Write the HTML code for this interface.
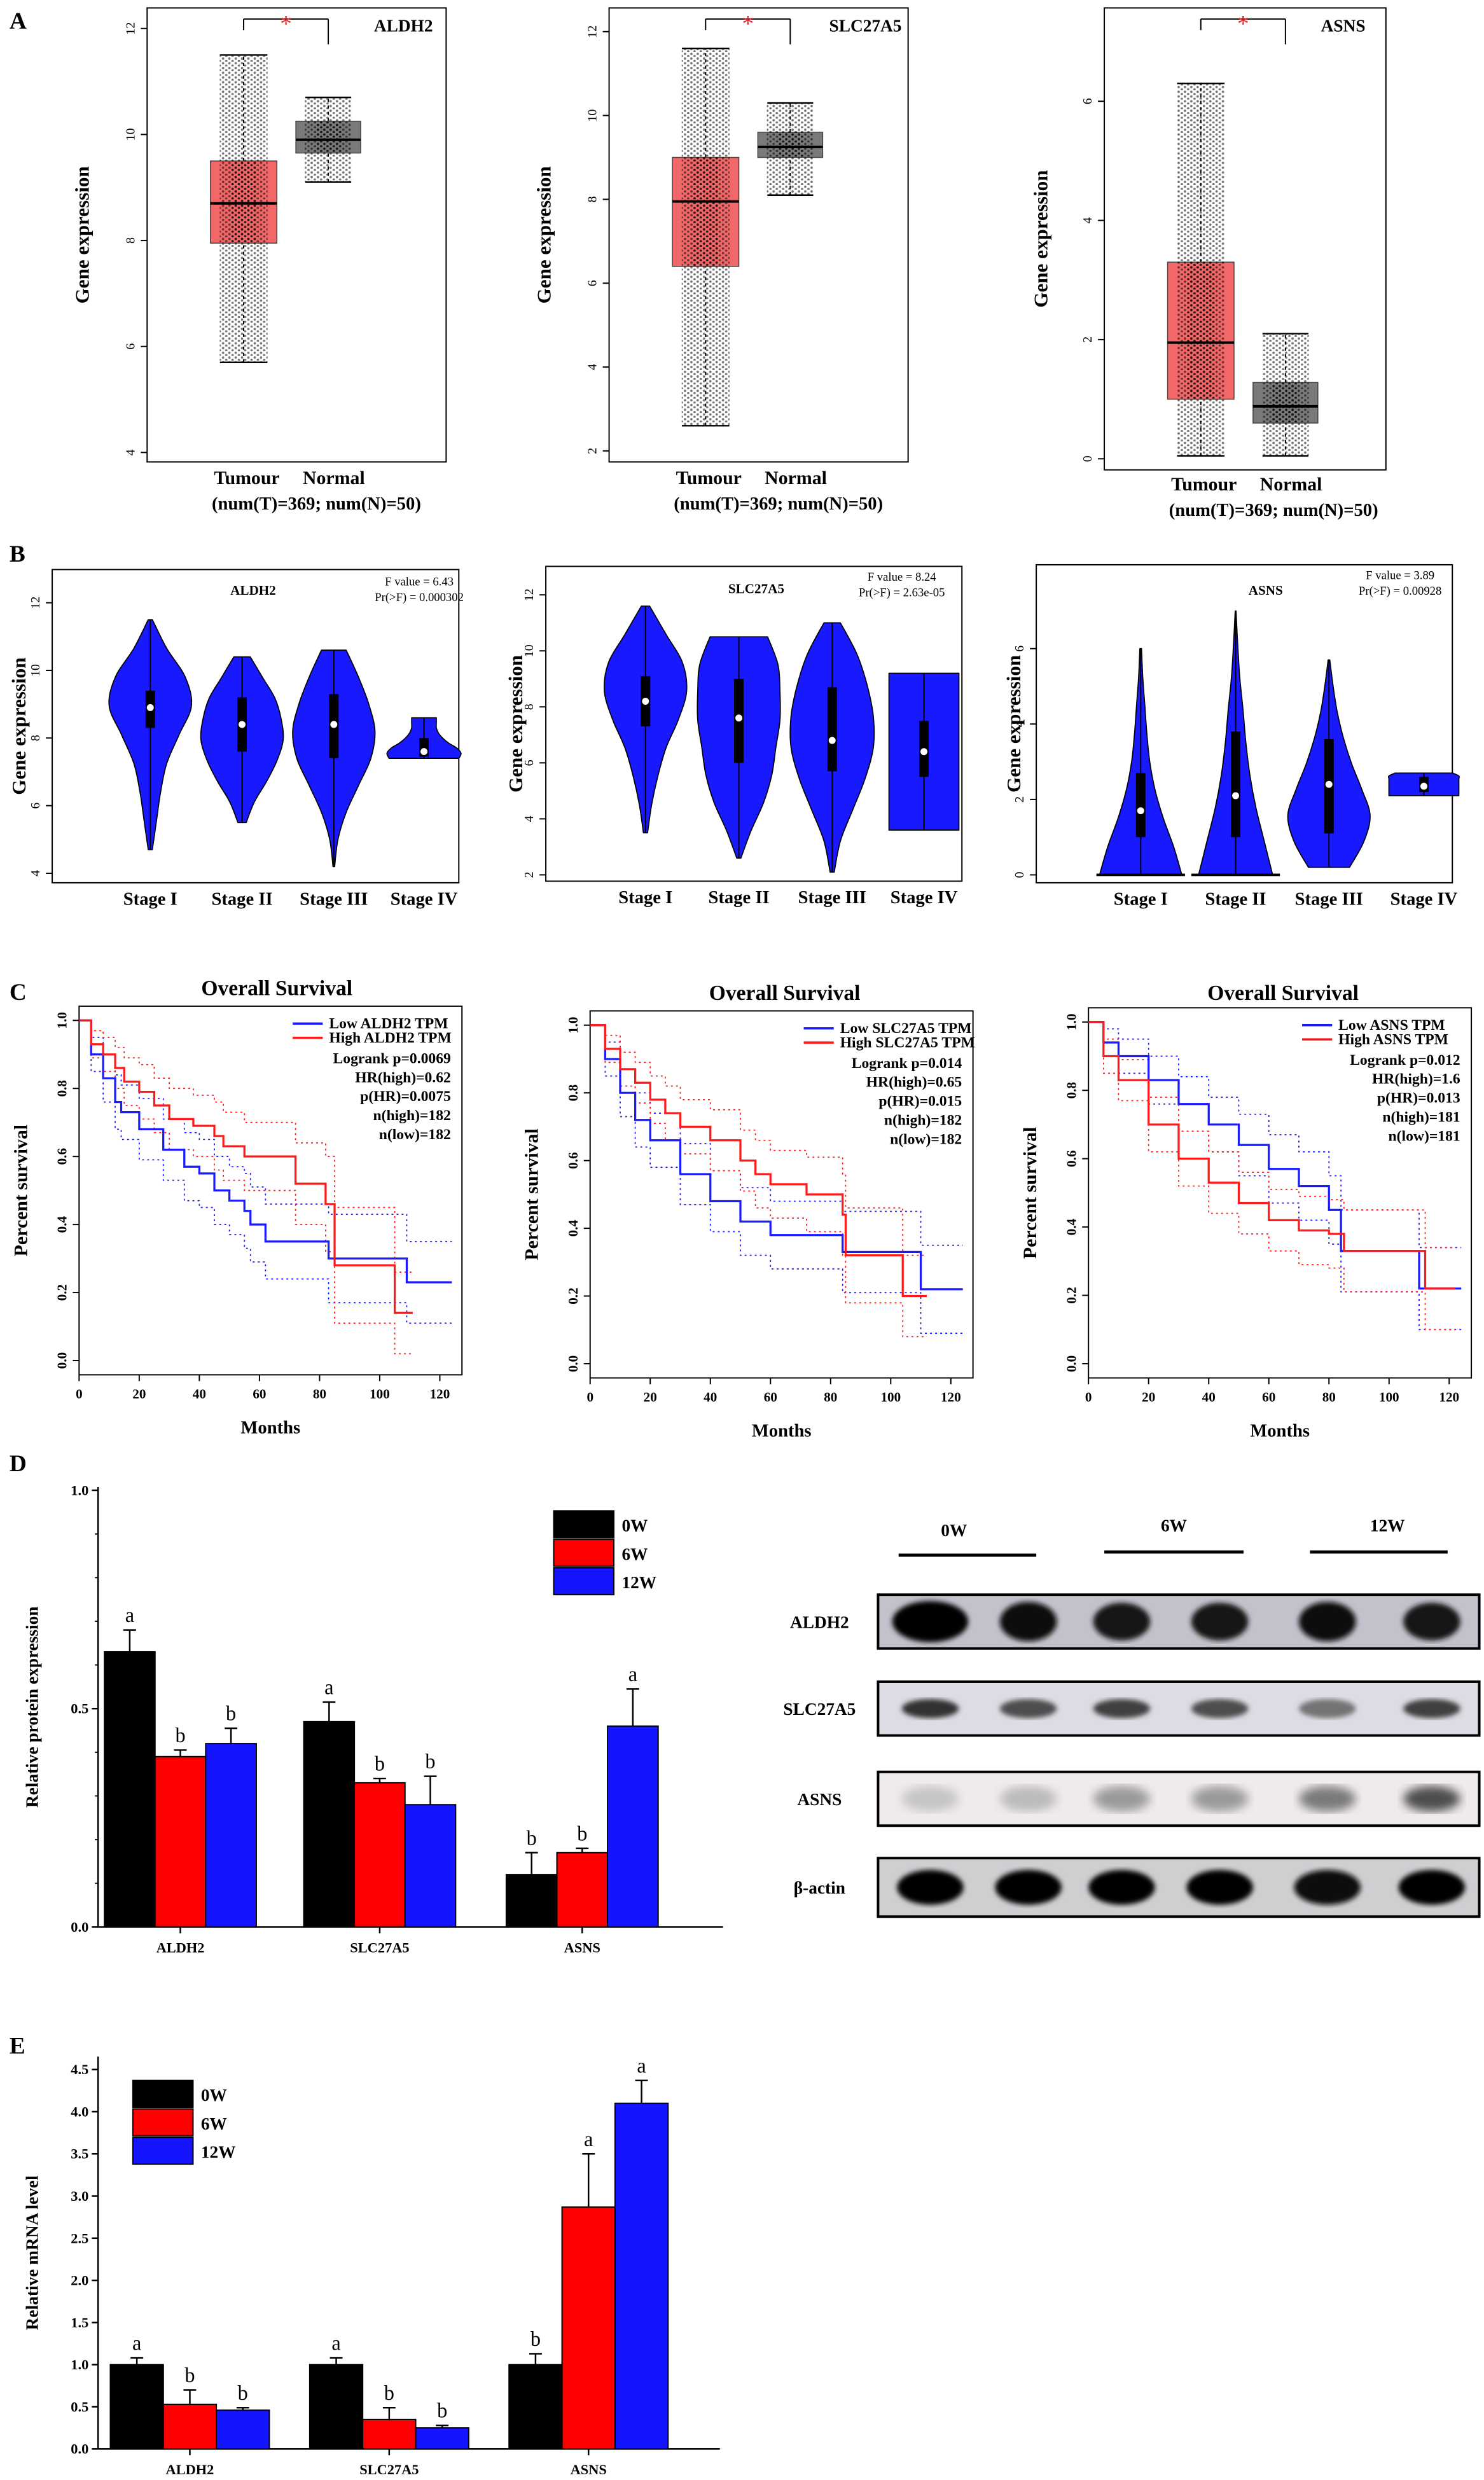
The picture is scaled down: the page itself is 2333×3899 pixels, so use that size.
<!DOCTYPE html>
<html><head><meta charset="utf-8">
<style>
html,body{margin:0;padding:0;background:#fff;}
svg{display:block;}
text{font-family:"Liberation Serif","DejaVu Serif",serif;}
</style></head>
<body>
<svg id="fig" xmlns="http://www.w3.org/2000/svg" width="2333" height="3899" viewBox="0 0 938 1567.6" preserveAspectRatio="none">
<defs>
<pattern id="dots" width="4" height="3" patternUnits="userSpaceOnUse">
<circle cx="1" cy="1" r="0.75" fill="#000"/><circle cx="3" cy="2.5" r="0.75" fill="#000"/>
</pattern>
<filter id="blur1"><feGaussianBlur stdDeviation="1.6"/></filter>
<filter id="blur2"><feGaussianBlur stdDeviation="3"/></filter>
</defs>
</svg>
<script>
// ===== Panel A data =====
const aGenes=['ALDH2','SLC27A5','ASNS'];
const aTumour=[[5.7,7.95,8.7,9.5,11.5],[2.6,6.4,7.95,9.0,11.6],[0.05,1.0,1.95,3.3,6.3]];
const aNormal=[[9.1,9.65,9.9,10.25,10.7],[8.1,9.0,9.25,9.6,10.3],[0.05,0.6,0.88,1.28,2.1]];
const aTicks=[[4,6,8,10,12],[2,4,6,8,10,12],[0,2,4,6]];
// ===== Panel B data =====
const bGenes=['ALDH2','SLC27A5','ASNS'];
const bStages=['Stage I','Stage II','Stage III','Stage IV'];
const bFvalue=['F value = 6.43','F value = 8.24','F value = 3.89'];
const bPr=['Pr(>F) = 0.000302','Pr(>F) = 2.63e-05','Pr(>F) = 0.00928'];
const bMin=[[4.7,5.5,4.2,7.4],[3.5,2.6,2.1,3.6],[0,0,0.2,2.1]];
const bMax=[[11.5,10.4,10.6,8.6],[11.6,10.5,11.0,9.2],[6,7,5.7,2.7]];
const bQ1=[[8.3,7.6,7.4,7.45],[7.3,6.0,5.7,5.5],[1.0,1.0,1.1,2.2]];
const bQ3=[[9.4,9.2,9.3,8.0],[9.1,9.0,8.7,7.5],[2.7,3.8,3.6,2.6]];
const bMed=[[8.9,8.4,8.4,7.6],[8.2,7.6,6.8,6.4],[1.7,2.1,2.4,2.35]];
const bProfile=[
 [[0.05,0.15,0.25,0.4,0.7,1,0.85,0.4,0.05],[0.1,0.3,0.6,0.85,1,0.95,0.8,0.5,0.2],[0.02,0.1,0.3,0.6,0.9,1,0.85,0.6,0.3],[0.85,0.9,0.8,0.6,0.45,0.35,0.3,0.3,0.3]],
 [[0.05,0.15,0.3,0.5,0.8,1,0.9,0.5,0.1],[0.05,0.3,0.6,0.8,0.9,1,1,0.95,0.7],[0.05,0.2,0.5,0.8,1,1,0.85,0.6,0.2],[0.85,0.85,0.85,0.85,0.85,0.85,0.85,0.85,0.85]],
 [[1,0.8,0.55,0.35,0.22,0.15,0.1,0.05,0.02],[0.9,0.7,0.5,0.35,0.25,0.18,0.1,0.05,0.01],[0.5,0.85,1,0.8,0.55,0.35,0.2,0.1,0.02],[0.85,0.85,0.85,0.85,0.85,0.85,0.85,0.85,0.7]]];
const bTicks=[[4,6,8,10,12],[2,4,6,8,10,12],[0,2,4,6]];
// ===== Panel C data =====
const cGenes=['ALDH2','SLC27A5','ASNS'];
const cLogrank=['0.0069','0.014','0.012'];
const cHR=['0.62','0.65','1.6'];
const cPHR=['0.0075','0.015','0.013'];
const cNhigh=['182','182','181'];
const cNlow=['182','182','181'];
const cLowMonths=[[0,4,8,12,14,20,28,35,40,45,50,55,57,62,83,109,124],[0,5,10,15,20,30,40,50,60,80,84,108,110,124],[0,5,10,20,30,40,50,60,70,80,84,108,110,124]];
const cLowSurv=[[1,0.9,0.83,0.76,0.73,0.68,0.62,0.57,0.55,0.5,0.47,0.44,0.4,0.35,0.3,0.23,0.23],[1,0.9,0.8,0.72,0.66,0.56,0.48,0.42,0.38,0.38,0.33,0.33,0.22,0.22],[1,0.94,0.9,0.83,0.76,0.7,0.64,0.57,0.52,0.45,0.33,0.33,0.22,0.22]];
const cLowCI=[[0,0.05,0.07,0.08,0.08,0.09,0.09,0.1,0.1,0.1,0.1,0.11,0.11,0.11,0.13,0.12,0.12],[0,0.05,0.07,0.08,0.08,0.09,0.09,0.1,0.1,0.1,0.12,0.12,0.13,0.13],[0,0.04,0.05,0.07,0.08,0.08,0.09,0.1,0.1,0.1,0.12,0.12,0.12,0.12]];
const cHighMonths=[[0,4,8,12,15,20,25,30,38,45,48,55,72,82,85,105,111],[0,5,10,15,20,25,30,40,50,55,60,72,84,85,104,112],[0,5,10,20,30,40,50,60,70,80,85,108,112,122]];
const cHighSurv=[[1,0.93,0.9,0.86,0.82,0.79,0.75,0.71,0.69,0.66,0.63,0.6,0.52,0.46,0.28,0.14,0.14],[1,0.93,0.87,0.83,0.78,0.74,0.7,0.66,0.6,0.56,0.53,0.5,0.44,0.32,0.2,0.2],[1,0.9,0.83,0.7,0.6,0.53,0.47,0.42,0.39,0.38,0.33,0.33,0.22,0.22]];
const cHighCI=[[0,0.04,0.05,0.06,0.07,0.08,0.08,0.09,0.09,0.1,0.1,0.1,0.12,0.14,0.17,0.12,0.12],[0,0.04,0.05,0.06,0.07,0.08,0.08,0.09,0.09,0.1,0.1,0.11,0.12,0.14,0.12,0.12],[0,0.05,0.06,0.08,0.08,0.09,0.09,0.09,0.1,0.1,0.12,0.12,0.12,0.12]];
const cXTicks=[0,20,40,60,80,100,120];
const cYTicks=[0,0.2,0.4,0.6,0.8,1.0];
// ===== Panel D data =====
const dCats=['ALDH2','SLC27A5','ASNS'];
const dSeries=['0W','6W','12W'];
const dValues=[[0.63,0.39,0.42],[0.47,0.33,0.28],[0.12,0.17,0.46]];
const dErrors=[[0.05,0.015,0.035],[0.045,0.01,0.065],[0.05,0.01,0.085]];
const dLetters=[['a','b','b'],['a','b','b'],['b','b','a']];
const dTicks=[0,0.5,1.0];
const dTickLabels=['0.0','0.5','1.0'];
const wbRows=['ALDH2','SLC27A5','ASNS','β-actin'];
const wbIntensity=[[1,0.95,0.9,0.9,0.95,0.9],[0.8,0.7,0.75,0.7,0.55,0.75],[0.25,0.3,0.45,0.45,0.6,0.8],[1,1,1,1,0.95,1]];
// ===== Panel E data =====
const eCats=['ALDH2','SLC27A5','ASNS'];
const eValues=[[1.0,0.53,0.46],[1.0,0.35,0.25],[1.0,2.87,4.1]];
const eErrors=[[0.08,0.17,0.03],[0.08,0.14,0.03],[0.13,0.63,0.27]];
const eLetters=[['a','b','b'],['a','b','b'],['b','a','a']];
const eTicks=[0,0.5,1.0,1.5,2.0,2.5,3.0,3.5,4.0,4.5];
const eTickLabels=['0.0','0.5','1.0','1.5','2.0','2.5','3.0','3.5','4.0','4.5'];

const NS='http://www.w3.org/2000/svg';
const svg=document.getElementById('fig');
function mk(tag,attrs,name,parent){
  const e=document.createElementNS(NS,tag);
  for(const k in attrs) e.setAttribute(k,attrs[k]);
  
  
  (parent||svg).appendChild(e);
  return e;
}
function tx(x,y,s,size,name,o){
  o=o||{};
  const a={x:x,y:y,'font-size':size,'font-weight':o.w||'bold','text-anchor':o.a||'middle',fill:o.fill||'#000'};
  if(o.rot) a.transform='rotate('+o.rot+' '+x+' '+y+')';
  if(o.ff) a['font-family']=o.ff;
  const t=mk('text',a,name,o.p);
  t.textContent=s;
  return t;
}
function line(x1,y1,x2,y2,name,o){
  o=o||{};
  return mk('line',{x1:x1,y1:y1,x2:x2,y2:y2,stroke:o.c||'#000','stroke-width':o.w||0.8,'stroke-dasharray':o.d||'none'},name,o.p);
}
function lin(v0,p0,v1,p1){return v=>p0+(v-v0)*(p1-p0)/(v1-v0);}
function smooth(pts){ // catmull-rom to bezier, open
  let d='M'+pts[0][0].toFixed(2)+','+pts[0][1].toFixed(2);
  for(let i=0;i<pts.length-1;i++){
    const p0=pts[Math.max(0,i-1)],p1=pts[i],p2=pts[i+1],p3=pts[Math.min(pts.length-1,i+2)];
    const c1=[p1[0]+(p2[0]-p0[0])/6,p1[1]+(p2[1]-p0[1])/6];
    const c2=[p2[0]-(p3[0]-p1[0])/6,p2[1]-(p3[1]-p1[1])/6];
    d+='C'+c1[0].toFixed(2)+','+c1[1].toFixed(2)+' '+c2[0].toFixed(2)+','+c2[1].toFixed(2)+' '+p2[0].toFixed(2)+','+p2[1].toFixed(2);
  }
  return d;
}

// Panel labels
[['A',18],['B',355],['C',632],['D',930],['E',1298]].forEach(function(l){tx(6,l[1],l[0],15,'panel-label-'+l[0].toLowerCase(),{a:'start',ff:'Liberation Serif'});});

// ===== Panel A =====
const aLayout=[{fl:93,fr:282,ft:5,fb:292,v0:12,p0:18,v1:4,p1:286,lx:56,xl:306},
               {fl:385,fr:574,ft:5,fb:292,v0:12,p0:20,v1:2,p1:285,lx:348,xl:306},
               {fl:698,fr:876,ft:5,fb:297,v0:6,p0:64,v1:0,p1:290,lx:662,xl:310}];
aGenes.forEach(function(g,i){
  const L=aLayout[i];const y=lin(L.v0,L.p0,L.v1,L.p1);
  const grp=mk('g',{},'boxplot-'+g.toLowerCase());
  mk('rect',{x:L.fl,y:L.ft,width:L.fr-L.fl,height:L.fb-L.ft,fill:'none',stroke:'#000','stroke-width':0.8},'plot-frame',grp);
  aTicks[i].forEach(function(t){
    line(L.fl-4,y(t),L.fl,y(t),'y-tick',{p:grp});
    tx(L.fl-8,y(t),String(t),8,'y-tick-label',{w:'normal',rot:-90,p:grp});
  });
  tx(L.lx,(L.ft+L.fb)/2,'Gene expression',12.5,'y-axis-title',{rot:-90,p:grp});
  tx(L.fr-27,20,g,11,'gene-label',{p:grp});
  const boxes=[{d:aTumour[i],x0:L.fl+40,x1:L.fl+82,fill:'#f26868',n:'tumour'},{d:aNormal[i],x0:L.fl+94,x1:L.fl+135,fill:'#7a7a7a',n:'normal'}];
  boxes.forEach(function(b){
    const cx=(b.x0+b.x1)/2, d=b.d;
    line(cx,y(d[0]),cx,y(d[1]),'whisker-low',{d:'2,2',p:grp});
    line(cx,y(d[3]),cx,y(d[4]),'whisker-high',{d:'2,2',p:grp});
    line(b.x0+6,y(d[0]),b.x1-6,y(d[0]),'whisker-cap',{w:1,p:grp});
    line(b.x0+6,y(d[4]),b.x1-6,y(d[4]),'whisker-cap',{w:1,p:grp});
    mk('rect',{x:b.x0,y:y(d[3]),width:b.x1-b.x0,height:y(d[1])-y(d[3]),fill:b.fill,stroke:'#444','stroke-width':0.6},'box-'+b.n,grp);
    const w=(b.x1-b.x0);
    mk('rect',{x:cx-w*0.36,y:y(d[4]),width:w*0.72,height:y(d[0])-y(d[4]),fill:'url(#dots)',opacity:0.55},'jitter-points-'+b.n,grp);
    mk('rect',{x:cx-w*0.2,y:y(d[3]),width:w*0.4,height:y(d[1])-y(d[3]),fill:'url(#dots)',opacity:0.6},'jitter-points-core-'+b.n,grp);
    line(b.x0,y(d[2]),b.x1,y(d[2]),'median-'+b.n,{w:1.6,p:grp});
  });
  const tc=L.fl+61,nc=L.fl+114.5,by=12;
  line(tc,by,nc,by,'significance-bracket',{w:0.8,p:grp});
  line(tc,by,tc,by+7,'significance-bracket-left',{p:grp});
  line(nc,by,nc,by+16,'significance-bracket-right',{p:grp});
  tx((tc+nc)/2,by+8,'*',15,'significance-star',{fill:'#e8262b',w:'normal',p:grp});
  tx(L.fl+63,L.xl,'Tumour',12,'x-label-tumour',{p:grp});
  tx(L.fl+118,L.xl,'Normal',12,'x-label-normal',{p:grp});
  tx(L.fl+107,L.xl+16,'(num(T)=369; num(N)=50)',11.5,'sample-size-label',{p:grp});
});

// ===== Panel B =====
const bLayout=[{fl:33,fr:290,ft:360,fb:558,v0:12,p0:381,v1:4,p1:552,cx:[95,153,211,268],lx:16,gx:160,gy:376,fx:265,fy:370},
               {fl:345,fr:608,ft:358,fb:557,v0:12,p0:376,v1:2,p1:553,cx:[408,467,526,584],lx:330,gx:478,gy:375,fx:570,fy:367},
               {fl:655,fr:918,ft:357,fb:558,v0:6,p0:410,v1:0,p1:553,cx:[721,781,840,900],lx:645,gx:800,gy:376,fx:885,fy:366}];
bGenes.forEach(function(g,i){
  const L=bLayout[i];const y=lin(L.v0,L.p0,L.v1,L.p1);
  const grp=mk('g',{},'violin-plot-'+g.toLowerCase());
  mk('rect',{x:L.fl,y:L.ft,width:L.fr-L.fl,height:L.fb-L.ft,fill:'none',stroke:'#000','stroke-width':0.8},'plot-frame',grp);
  bTicks[i].forEach(function(t){
    line(L.fl-4,y(t),L.fl,y(t),'y-tick',{p:grp});
    tx(L.fl-8,y(t),String(t),8,'y-tick-label',{w:'normal',rot:-90,p:grp});
  });
  tx(L.lx,(L.ft+L.fb)/2,'Gene expression',12.5,'y-axis-title',{rot:-90,p:grp});
  tx(L.gx,L.gy,g,8.5,'gene-label',{p:grp});
  tx(L.fx,L.fy,bFvalue[i],7.5,'f-value',{w:'normal',p:grp});
  tx(L.fx,L.fy+10,bPr[i],7.5,'p-value',{w:'normal',p:grp});
  bStages.forEach(function(s,j){
    const cx=L.cx[j],prof=bProfile[i][j],n=prof.length,mn=bMin[i][j],mx=bMax[i][j],hw=26;
    let right=[],left=[];
    for(let k=0;k<n;k++){const v=mn+(mx-mn)*k/(n-1);right.push([cx+prof[k]*hw,y(v)]);left.push([cx-prof[k]*hw,y(v)]);}
    left.reverse();
    const d=smooth(right)+'L'+smooth(left).slice(1)+'Z';
    mk('path',{d:d,fill:'#1919ff',stroke:'#000','stroke-width':0.7,'stroke-linejoin':'round'},'violin-'+s.toLowerCase().replace(' ','-'),grp);
    line(cx,y(mn),cx,y(mx),'violin-range',{w:0.8,p:grp});
    mk('rect',{x:cx-3,y:y(bQ3[i][j]),width:6,height:y(bQ1[i][j])-y(bQ3[i][j]),fill:'#000'},'violin-iqr-box',grp);
    mk('circle',{cx:cx,cy:y(bMed[i][j]),r:2.2,fill:'#fff'},'violin-median',grp);
    tx(cx,L.fb+14,s,11.5,'x-label-stage',{p:grp});
    if(mn===0) line(cx-28,y(0),cx+28,y(0),'zero-line',{w:1.6,p:grp});
  });
});

// ===== Panel C =====
const cLayout=[{x0:50,y1:645,y0:860,fr:292,ft:636,fb:869,tx:175,ty:629},
               {x0:373,y1:648,y0:862,fr:615,ft:639,fb:871,tx:496,ty:632},
               {x0:688,y1:646,y0:862,fr:930,ft:637,fb:871,tx:811,ty:632}];
function stepPath(ms,ss,xf,yf,off){
  let d='M'+xf(ms[0]).toFixed(2)+','+yf(Math.max(0,Math.min(1,ss[0]+(off?off[0]:0)))).toFixed(2);
  for(let k=1;k<ms.length;k++){
    const v=Math.max(0,Math.min(1,ss[k]+(off?off[k]:0)));
    d+='H'+xf(ms[k]).toFixed(2)+'V'+yf(v).toFixed(2);
  }
  return d;
}
cGenes.forEach(function(g,i){
  const L=cLayout[i];
  const xf=m=>L.x0+m*1.9;const yf=lin(1,L.y1,0,L.y0);
  const grp=mk('g',{},'survival-plot-'+g.toLowerCase());
  mk('rect',{x:L.x0,y:L.ft,width:L.fr-L.x0,height:L.fb-L.ft,fill:'none',stroke:'#000','stroke-width':0.8},'plot-frame',grp);
  tx(L.tx,L.ty,'Overall Survival',13.5,'chart-title',{p:grp});
  cXTicks.forEach(function(t){line(xf(t),L.fb,xf(t),L.fb+4,'x-tick',{p:grp});tx(xf(t),L.fb+15,String(t),8.5,'x-tick-label',{p:grp});});
  cYTicks.forEach(function(t){line(L.x0-4,yf(t),L.x0,yf(t),'y-tick',{p:grp});tx(L.x0-8,yf(t),t.toFixed(1),8.5,'y-tick-label',{rot:-90,p:grp});});
  tx((L.x0+L.fr)/2,L.fb+37,'Months',11.5,'x-axis-title',{p:grp});
  tx(L.x0-33,(L.ft+L.fb)/2,'Percent survival',12,'y-axis-title',{rot:-90,p:grp});
  const series=[{m:cLowMonths[i],s:cLowSurv[i],ci:cLowCI[i],c:'#1a1aff',n:'low'},{m:cHighMonths[i],s:cHighSurv[i],ci:cHighCI[i],c:'#ff1a1a',n:'high'}];
  series.forEach(function(S){
    const neg=S.ci.map(v=>-v);
    mk('path',{d:stepPath(S.m,S.s,xf,yf,S.ci),fill:'none',stroke:S.c,'stroke-width':0.7,'stroke-dasharray':'1.2,2'},'ci-upper-'+S.n,grp);
    mk('path',{d:stepPath(S.m,S.s,xf,yf,neg),fill:'none',stroke:S.c,'stroke-width':0.7,'stroke-dasharray':'1.2,2'},'ci-lower-'+S.n,grp);
  });
  series.forEach(function(S){
    mk('path',{d:stepPath(S.m,S.s,xf,yf),fill:'none',stroke:S.c,'stroke-width':1.3},'survival-curve-'+S.n,grp);
  });
  const rx=L.fr-7;
  line(L.fr-107,L.ft+11,L.fr-88,L.ft+11,'legend-line-low',{c:'#1a1aff',w:1.4,p:grp});
  line(L.fr-107,L.ft+20,L.fr-88,L.ft+20,'legend-line-high',{c:'#ff1a1a',w:1.4,p:grp});
  tx(L.fr-84,L.ft+14,'Low '+g+' TPM',9.5,'legend-entry-low',{a:'start',p:grp});
  tx(L.fr-84,L.ft+23,'High '+g+' TPM',9.5,'legend-entry-high',{a:'start',p:grp});
  tx(rx,L.ft+36,'Logrank p='+cLogrank[i],9.5,'logrank-p',{a:'end',p:grp});
  tx(rx,L.ft+48,'HR(high)='+cHR[i],9.5,'hazard-ratio',{a:'end',p:grp});
  tx(rx,L.ft+60,'p(HR)='+cPHR[i],9.5,'hr-p-value',{a:'end',p:grp});
  tx(rx,L.ft+72,'n(high)='+cNhigh[i],9.5,'n-high',{a:'end',p:grp});
  tx(rx,L.ft+84,'n(low)='+cNlow[i],9.5,'n-low',{a:'end',p:grp});
});

// ===== Bar chart helper =====
const barColors=['#000000','#ff0000','#1414ff'];
function barChart(o){
  const grp=mk('g',{},o.name);
  const y=v=>o.yz-v*o.ys;
  line(o.ax,o.yz,o.ax,o.top,'y-axis',{w:1,p:grp});
  line(o.ax,o.yz,o.ax2,o.yz,'x-axis',{w:1,p:grp});
  o.ticks.forEach(function(t,k){line(o.ax-4,y(t),o.ax,y(t),'y-tick',{w:1,p:grp});tx(o.ax-6,y(t)+3,o.tickLabels[k],9,'y-tick-label',{a:'end',p:grp});});
  if(o.minor){for(let k=1;k<o.minor.n;k++){const v=k*o.minor.step;if(Math.abs(v*2-Math.round(v*2))>1e-6) line(o.ax-2,y(v),o.ax,y(v),'y-minor-tick',{w:0.8,p:grp});}}
  tx(o.lx,(o.top+o.yz)/2,o.ytitle,11,'y-axis-title',{rot:-90,p:grp});
  o.cats.forEach(function(c,i){
    const gc=o.gx[i];
    line(gc,o.yz,gc,o.yz+4,'x-tick',{w:1,p:grp});
    tx(gc,o.yz+16,c,9,'x-category-label',{p:grp});
    for(let j=0;j<3;j++){
      const cx=gc+(j-1)*o.bw,v=o.vals[i][j],e=o.errs[i][j];
      mk('rect',{x:cx-o.bw/2,y:y(v),width:o.bw,height:o.yz-y(v),fill:barColors[j],stroke:'#000','stroke-width':0.8},'bar-'+c.toLowerCase()+'-'+dSeries[j].toLowerCase(),grp);
      line(cx,y(v),cx,y(v+e),'error-bar',{w:1,p:grp});
      line(cx-4,y(v+e),cx+4,y(v+e),'error-cap',{w:1,p:grp});
      tx(cx,y(v+e)-5,o.letters[i][j],13,'significance-letter',{w:'normal',p:grp});
    }
  });
  for(let j=0;j<3;j++){
    mk('rect',{x:o.lgx,y:o.lgy+j*18,width:38,height:17,fill:barColors[j],stroke:'#000','stroke-width':0.8},'legend-swatch-'+dSeries[j].toLowerCase(),grp);
    tx(o.lgx+43,o.lgy+j*18+13,dSeries[j],11,'legend-entry-'+dSeries[j].toLowerCase(),{a:'start',p:grp});
  }
}
barChart({name:'protein-bar-chart',ax:62,ax2:457,yz:1218,ys:276,top:940,ticks:dTicks,tickLabels:dTickLabels,minor:{n:10,step:0.1},lx:24,ytitle:'Relative protein expression',cats:dCats,gx:[114,240,368],bw:32,vals:dValues,errs:dErrors,letters:dLetters,lgx:350,lgy:955});
barChart({name:'mrna-bar-chart',ax:62,ax2:455,yz:1548,ys:53.3,top:1300,ticks:eTicks,tickLabels:eTickLabels,lx:24,ytitle:'Relative mRNA level',cats:eCats,gx:[120,246,372],bw:33.5,vals:eValues,errs:eErrors,letters:eLetters,lgx:84,lgy:1315});

// ===== Western blot =====
const wbGrp=mk('g',{},'western-blot');
const lanes=[588,650,709,771,839,905];
[['0W',603,971,568,655,983],['6W',742,968,698,786,981],['12W',877,968,828,915,981]].forEach(function(h){
  tx(h[1],h[2],h[0],11,'lane-group-label-'+h[0].toLowerCase(),{p:wbGrp});
  line(h[3],h[5],h[4],h[5],'lane-group-line',{w:2,p:wbGrp});
});
const rowY=[1025,1080,1137,1193];
const rowBg=['#c2c2cc','#dcdce4','#efeaee','#cfcfd2'];
wbRows.forEach(function(r,i){
  const cy=rowY[i],h=i===3?37:34;
  tx(518,cy+4,r,11,'blot-label-'+r.toLowerCase(),{p:wbGrp});
  mk('rect',{x:555,y:cy-h/2,width:380,height:h,fill:rowBg[i],stroke:'#000','stroke-width':1.6},'blot-row-'+r.toLowerCase(),wbGrp);
  lanes.forEach(function(lx,j){
    const it=wbIntensity[i][j];
    const rx=(i===0&&j===0)?24:(i===3?21:18);
    const ry=i===0?11*it+2:(i===1?6:(i===2?8:11));
    const g=Math.round(255*(1-it));
    mk('ellipse',{cx:lx,cy:cy,rx:rx,ry:ry,fill:'rgb('+g+','+g+','+g+')',filter:i===2?'url(#blur2)':'url(#blur1)',opacity:i===2?0.85:1},'blot-band',wbGrp);
  });
});
</script>
</body></html>
